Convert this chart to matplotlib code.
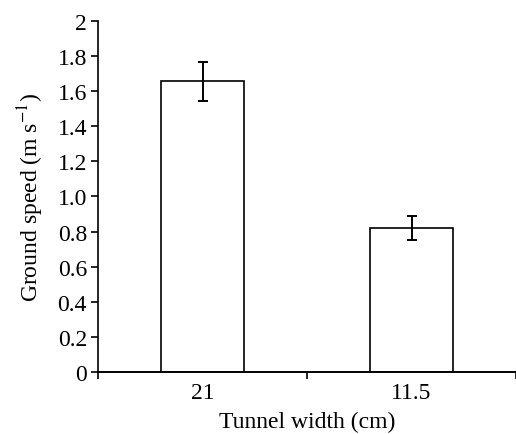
import matplotlib
matplotlib.use("Agg")
import matplotlib.pyplot as plt

# Data
widths = ["21", "11.5"]
speeds = [1.656, 0.82]
errors = [0.112, 0.07]

plt.rcParams['font.family'] = ['Liberation Serif', 'DejaVu Serif']
plt.rcParams['mathtext.fontset'] = 'stix'

fig = plt.figure(figsize=(5.16, 4.35), dpi=100)
ax = fig.add_axes([0.19, 0.1425, 0.81, 0.807])

x = range(len(widths))
ax.bar(x, speeds, width=0.40, color='white', edgecolor='black', linewidth=1.2,
       yerr=errors, capsize=3.5, error_kw=dict(elinewidth=1.4, capthick=1.4, ecolor='black'))

ax.set_xlim(-0.5, 1.5)
ax.set_ylim(0, 2)
ax.set_yticks([0, 0.2, 0.4, 0.6, 0.8, 1.0, 1.2, 1.4, 1.6, 1.8, 2])
ax.set_yticklabels(["0", "0.2", "0.4", "0.6", "0.8", "1.0", "1.2", "1.4", "1.6", "1.8", "2"])
ax.set_xticks([-0.5, 0.5, 1.5])
ax.set_xticklabels([])
ax.set_xticks([0, 1], minor=True)
ax.set_xticklabels(widths, minor=True)
ax.tick_params(axis='x', which='minor', length=0, labelsize=17, pad=7)
ax.tick_params(axis='x', which='major', length=5, width=1.2, direction='out')
ax.tick_params(axis='y', length=5, width=1.2, direction='out', labelsize=17, pad=3)

for s in ['top', 'right']:
    ax.spines[s].set_visible(False)
ax.spines['left'].set_linewidth(1.2)
ax.spines['bottom'].set_linewidth(1.4)
ax.spines['bottom'].set_clip_on(False)

ax.set_xlabel("Tunnel width (cm)", fontsize=17, labelpad=6)
ax.set_ylabel("Ground speed (m s$^{-1}$)", fontsize=17, labelpad=8)

fig.savefig("out.png", dpi=100)
